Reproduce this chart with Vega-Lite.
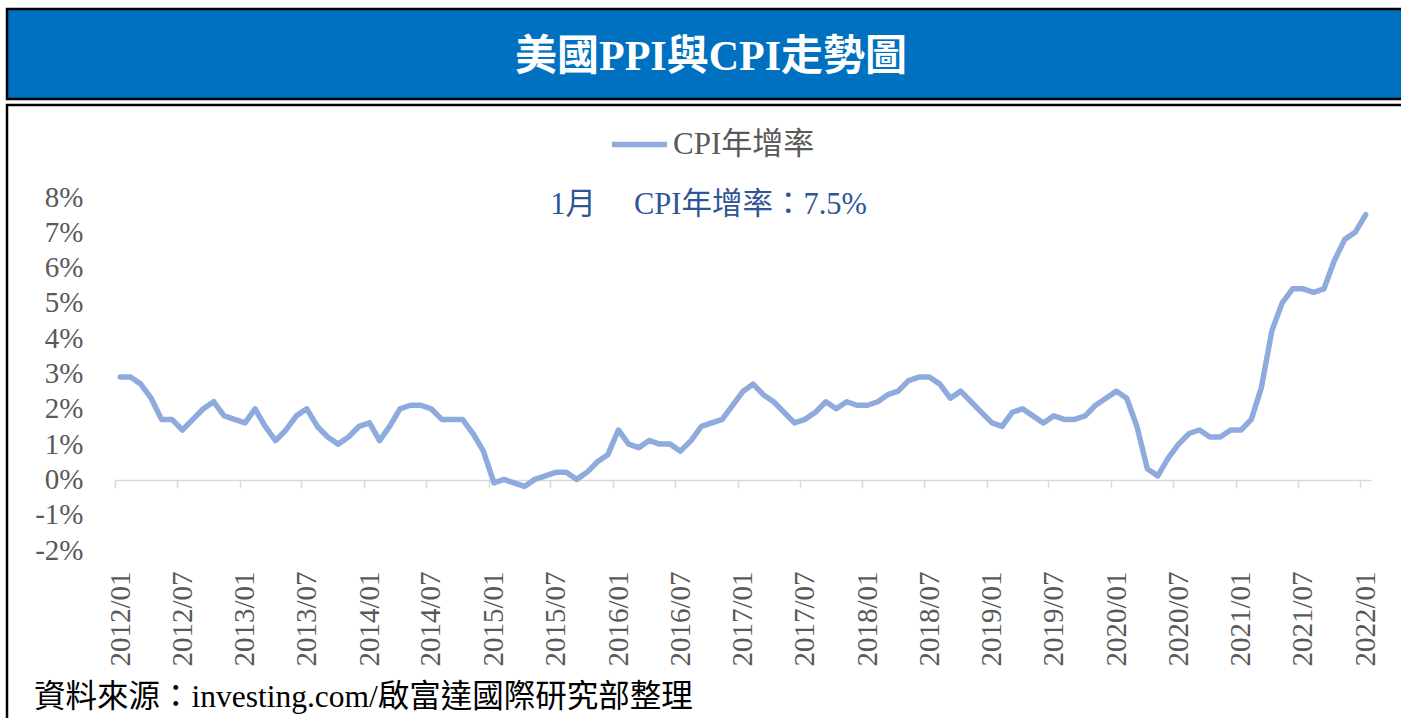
{
  "$schema": "https://vega.github.io/schema/vega-lite/v6.json",
  "background": "white",
  "padding": {"left": 5, "top": 7, "right": 0, "bottom": 0},
  "spacing": 2,
  "config": {"font": "Liberation Serif, Noto Sans CJK TC"},
  "datasets": {
    "cpi": [
      {"month": "2012-01-01", "cpi": 2.9}, {"month": "2012-02-01", "cpi": 2.9}, {"month": "2012-03-01", "cpi": 2.7}, {"month": "2012-04-01", "cpi": 2.3}, {"month": "2012-05-01", "cpi": 1.7}, {"month": "2012-06-01", "cpi": 1.7}, {"month": "2012-07-01", "cpi": 1.4}, {"month": "2012-08-01", "cpi": 1.7}, {"month": "2012-09-01", "cpi": 2.0}, {"month": "2012-10-01", "cpi": 2.2}, {"month": "2012-11-01", "cpi": 1.8}, {"month": "2012-12-01", "cpi": 1.7},
      {"month": "2013-01-01", "cpi": 1.6}, {"month": "2013-02-01", "cpi": 2.0}, {"month": "2013-03-01", "cpi": 1.5}, {"month": "2013-04-01", "cpi": 1.1}, {"month": "2013-05-01", "cpi": 1.4}, {"month": "2013-06-01", "cpi": 1.8}, {"month": "2013-07-01", "cpi": 2.0}, {"month": "2013-08-01", "cpi": 1.5}, {"month": "2013-09-01", "cpi": 1.2}, {"month": "2013-10-01", "cpi": 1.0}, {"month": "2013-11-01", "cpi": 1.2}, {"month": "2013-12-01", "cpi": 1.5},
      {"month": "2014-01-01", "cpi": 1.6}, {"month": "2014-02-01", "cpi": 1.1}, {"month": "2014-03-01", "cpi": 1.5}, {"month": "2014-04-01", "cpi": 2.0}, {"month": "2014-05-01", "cpi": 2.1}, {"month": "2014-06-01", "cpi": 2.1}, {"month": "2014-07-01", "cpi": 2.0}, {"month": "2014-08-01", "cpi": 1.7}, {"month": "2014-09-01", "cpi": 1.7}, {"month": "2014-10-01", "cpi": 1.7}, {"month": "2014-11-01", "cpi": 1.3}, {"month": "2014-12-01", "cpi": 0.8},
      {"month": "2015-01-01", "cpi": -0.1}, {"month": "2015-02-01", "cpi": 0.0}, {"month": "2015-03-01", "cpi": -0.1}, {"month": "2015-04-01", "cpi": -0.2}, {"month": "2015-05-01", "cpi": 0.0}, {"month": "2015-06-01", "cpi": 0.1}, {"month": "2015-07-01", "cpi": 0.2}, {"month": "2015-08-01", "cpi": 0.2}, {"month": "2015-09-01", "cpi": 0.0}, {"month": "2015-10-01", "cpi": 0.2}, {"month": "2015-11-01", "cpi": 0.5}, {"month": "2015-12-01", "cpi": 0.7},
      {"month": "2016-01-01", "cpi": 1.4}, {"month": "2016-02-01", "cpi": 1.0}, {"month": "2016-03-01", "cpi": 0.9}, {"month": "2016-04-01", "cpi": 1.1}, {"month": "2016-05-01", "cpi": 1.0}, {"month": "2016-06-01", "cpi": 1.0}, {"month": "2016-07-01", "cpi": 0.8}, {"month": "2016-08-01", "cpi": 1.1}, {"month": "2016-09-01", "cpi": 1.5}, {"month": "2016-10-01", "cpi": 1.6}, {"month": "2016-11-01", "cpi": 1.7}, {"month": "2016-12-01", "cpi": 2.1},
      {"month": "2017-01-01", "cpi": 2.5}, {"month": "2017-02-01", "cpi": 2.7}, {"month": "2017-03-01", "cpi": 2.4}, {"month": "2017-04-01", "cpi": 2.2}, {"month": "2017-05-01", "cpi": 1.9}, {"month": "2017-06-01", "cpi": 1.6}, {"month": "2017-07-01", "cpi": 1.7}, {"month": "2017-08-01", "cpi": 1.9}, {"month": "2017-09-01", "cpi": 2.2}, {"month": "2017-10-01", "cpi": 2.0}, {"month": "2017-11-01", "cpi": 2.2}, {"month": "2017-12-01", "cpi": 2.1},
      {"month": "2018-01-01", "cpi": 2.1}, {"month": "2018-02-01", "cpi": 2.2}, {"month": "2018-03-01", "cpi": 2.4}, {"month": "2018-04-01", "cpi": 2.5}, {"month": "2018-05-01", "cpi": 2.8}, {"month": "2018-06-01", "cpi": 2.9}, {"month": "2018-07-01", "cpi": 2.9}, {"month": "2018-08-01", "cpi": 2.7}, {"month": "2018-09-01", "cpi": 2.3}, {"month": "2018-10-01", "cpi": 2.5}, {"month": "2018-11-01", "cpi": 2.2}, {"month": "2018-12-01", "cpi": 1.9},
      {"month": "2019-01-01", "cpi": 1.6}, {"month": "2019-02-01", "cpi": 1.5}, {"month": "2019-03-01", "cpi": 1.9}, {"month": "2019-04-01", "cpi": 2.0}, {"month": "2019-05-01", "cpi": 1.8}, {"month": "2019-06-01", "cpi": 1.6}, {"month": "2019-07-01", "cpi": 1.8}, {"month": "2019-08-01", "cpi": 1.7}, {"month": "2019-09-01", "cpi": 1.7}, {"month": "2019-10-01", "cpi": 1.8}, {"month": "2019-11-01", "cpi": 2.1}, {"month": "2019-12-01", "cpi": 2.3},
      {"month": "2020-01-01", "cpi": 2.5}, {"month": "2020-02-01", "cpi": 2.3}, {"month": "2020-03-01", "cpi": 1.5}, {"month": "2020-04-01", "cpi": 0.3}, {"month": "2020-05-01", "cpi": 0.1}, {"month": "2020-06-01", "cpi": 0.6}, {"month": "2020-07-01", "cpi": 1.0}, {"month": "2020-08-01", "cpi": 1.3}, {"month": "2020-09-01", "cpi": 1.4}, {"month": "2020-10-01", "cpi": 1.2}, {"month": "2020-11-01", "cpi": 1.2}, {"month": "2020-12-01", "cpi": 1.4},
      {"month": "2021-01-01", "cpi": 1.4}, {"month": "2021-02-01", "cpi": 1.7}, {"month": "2021-03-01", "cpi": 2.6}, {"month": "2021-04-01", "cpi": 4.2}, {"month": "2021-05-01", "cpi": 5.0}, {"month": "2021-06-01", "cpi": 5.4}, {"month": "2021-07-01", "cpi": 5.4}, {"month": "2021-08-01", "cpi": 5.3}, {"month": "2021-09-01", "cpi": 5.4}, {"month": "2021-10-01", "cpi": 6.2}, {"month": "2021-11-01", "cpi": 6.8}, {"month": "2021-12-01", "cpi": 7.0},
      {"month": "2022-01-01", "cpi": 7.5}
    ]
  },
  "vconcat": [
    {
      "width": 1394,
      "height": 90,
      "view": {"fill": "#0070C0", "stroke": "black", "strokeWidth": 2.5, "strokeDash": [1394, 90, 1500]},
      "data": {"values": [{"t": "美國PPI與CPI走勢圖"}]},
      "mark": {"type": "text", "color": "white", "fontSize": 42, "fontWeight": "bold", "font": "Liberation Serif, Noto Sans CJK TC", "baseline": "middle", "align": "center", "dx": 7, "dy": 3},
      "encoding": {"text": {"field": "t"}}
    },
    {
      "width": 1394,
      "height": 613,
      "view": {"stroke": "black", "strokeWidth": 2.5, "strokeDash": [1394, 2007, 700]},
      "title": {
        "text": "資料來源：investing.com/啟富達國際研究部整理",
        "orient": "bottom",
        "anchor": "start",
        "frame": "group",
        "offset": -20,
        "dx": 27,
        "baseline": "middle",
        "fontSize": 31.5,
        "fontWeight": "normal",
        "color": "black",
        "font": "Liberation Serif, Noto Sans CJK TC"
      },
      "layer": [
        {
          "data": {"name": "cpi"},
          "mark": {"type": "line", "strokeWidth": 5.5, "strokeJoin": "round", "strokeCap": "round"},
          "encoding": {
            "x": {
              "field": "month",
              "type": "temporal",
              "timeUnit": "utcyearmonth",
              "bandPosition": 0.5,
              "scale": {
                "domain": [{"year": 2012, "month": 1, "date": 1, "utc": true}, {"year": 2022, "month": 2, "date": 1, "utc": true}],
                "range": [108, 1364]
              },
              "axis": {
                "values": [
                  {"year": 2012, "month": 1, "date": 1, "utc": true}, {"year": 2012, "month": 7, "date": 1, "utc": true},
                  {"year": 2013, "month": 1, "date": 1, "utc": true}, {"year": 2013, "month": 7, "date": 1, "utc": true},
                  {"year": 2014, "month": 1, "date": 1, "utc": true}, {"year": 2014, "month": 7, "date": 1, "utc": true},
                  {"year": 2015, "month": 1, "date": 1, "utc": true}, {"year": 2015, "month": 7, "date": 1, "utc": true},
                  {"year": 2016, "month": 1, "date": 1, "utc": true}, {"year": 2016, "month": 7, "date": 1, "utc": true},
                  {"year": 2017, "month": 1, "date": 1, "utc": true}, {"year": 2017, "month": 7, "date": 1, "utc": true},
                  {"year": 2018, "month": 1, "date": 1, "utc": true}, {"year": 2018, "month": 7, "date": 1, "utc": true},
                  {"year": 2019, "month": 1, "date": 1, "utc": true}, {"year": 2019, "month": 7, "date": 1, "utc": true},
                  {"year": 2020, "month": 1, "date": 1, "utc": true}, {"year": 2020, "month": 7, "date": 1, "utc": true},
                  {"year": 2021, "month": 1, "date": 1, "utc": true}, {"year": 2021, "month": 7, "date": 1, "utc": true},
                  {"year": 2022, "month": 1, "date": 1, "utc": true}
                ],
                "format": "%Y/%m",
                "title": null,
                "grid": false,
                "offset": -238,
                "labelAngle": -90,
                "labelOffset": 5,
                "labelPadding": 83,
                "tickSize": 8,
                "tickColor": "#D9D9D9",
                "tickWidth": 1.5,
                "domainColor": "#D9D9D9",
                "domainWidth": 1.5,
                "labelFontSize": 29,
                "labelColor": "#595959",
                "labelFont": "Liberation Serif",
                "labelOverlap": false,
                "labelFlush": false,
                "labelBound": false
              }
            },
            "y": {
              "field": "cpi",
              "type": "quantitative",
              "scale": {"domain": [-2, 8], "range": [445, 92], "nice": false, "zero": false},
              "axis": {
                "values": [-2, -1, 0, 1, 2, 3, 4, 5, 6, 7, 8],
                "labelExpr": "datum.value + '%'",
                "title": null,
                "grid": false,
                "domain": false,
                "ticks": false,
                "tickSize": 0,
                "labelPadding": 0,
                "offset": -76,
                "labelFontSize": 29,
                "labelColor": "#595959",
                "labelFont": "Liberation Serif",
                "labelOverlap": false
              }
            },
            "color": {
              "datum": "CPI年增率",
              "scale": {"range": ["#8FAADC"]},
              "legend": {
                "orient": "none",
                "legendX": 602,
                "legendY": 105,
                "title": null,
                "direction": "horizontal",
                "symbolType": "stroke",
                "symbolSize": 3025,
                "symbolStrokeWidth": 5.5,
                "labelFontSize": 31,
                "labelColor": "#595959",
                "labelFont": "Liberation Serif, Noto Sans CJK TC",
                "labelOffset": 3,
                "labelLimit": 400,
                "padding": 0
              }
            }
          }
        },
        {
          "data": {"values": [{"month": "2016-10-07", "cpi": 7.77, "label": "1月　 CPI年增率：7.5%"}]},
          "mark": {"type": "text", "color": "#2F5597", "fontSize": 30.5, "font": "Liberation Serif, Noto Sans CJK TC", "baseline": "middle", "align": "center"},
          "encoding": {
            "x": {"field": "month", "type": "temporal", "timeUnit": "utcyearmonthdate"},
            "y": {"field": "cpi", "type": "quantitative"},
            "text": {"field": "label"}
          }
        }
      ]
    }
  ]
}
